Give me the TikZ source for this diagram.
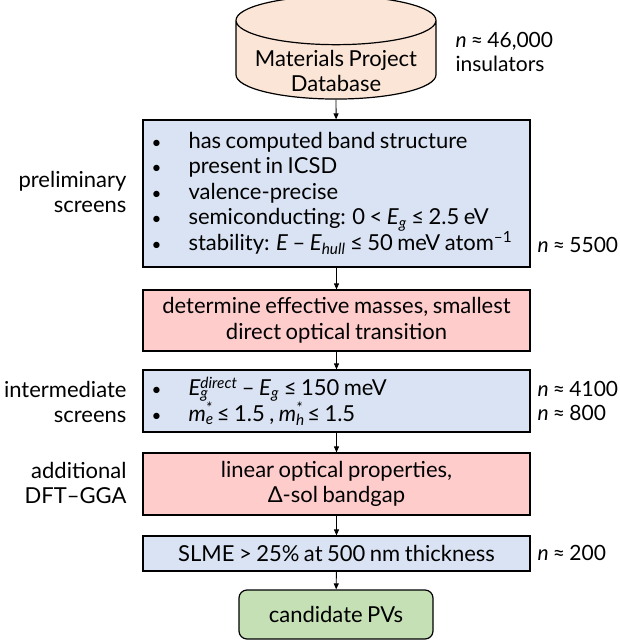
\documentclass[tikz,border=0pt]{standalone}
\usepackage{fontspec}
\setmainfont{Lato}[WordSpace=0.8]
\usetikzlibrary{shapes.geometric,arrows.meta}
\definecolor{peach}{RGB}{251,229,214}
\definecolor{lblue}{RGB}{218,227,243}
\definecolor{lpink}{RGB}{255,204,204}
\definecolor{lgreen}{RGB}{197,224,180}
\newcommand{\bul}{\makebox[38pt][l]{\hspace{1pt}{\fontsize{17}{17}\selectfont\textbullet}}}
\newcommand{\subsup}[3]{\textit{#1}\rlap{\textsubscript{\textit{#2}}}\textsuperscript{\textit{#3}}}

\begin{document}
\begin{tikzpicture}[x=1pt,y=-1pt]
    \tikzset{%
      txt/.style={font=\fontsize{22}{25.5}\selectfont},
      box/.style={txt, draw, line width=1.2pt, minimum width=387pt,
        inner sep=0pt, align=center},
      bluebox/.style={box, fill=lblue},
      pinkbox/.style={box, fill=lpink},
      listbox/.style={bluebox, text width=372pt, align=flush left},
      side/.style={txt, anchor=east, align=right},
      count/.style={font=\fontsize{21}{24}\selectfont, anchor=west, align=left},
      flow/.style={-{Triangle[length=6pt,width=5pt]}, line width=0.9pt},
    }
    \useasboundingbox (0,0) rectangle (619,640);
    % database
    \node[txt, draw, line width=1.2pt, fill=peach, cylinder, shape border rotate=90,
      aspect=0.3, minimum height=103pt, minimum width=200pt, inner sep=0pt]
      (db) at (336,60)
      {\raisebox{-19pt}[0pt][0pt]{\begin{tabular}{@{}c@{}}Materials Project\\Database\end{tabular}}};
    \node[count] (ndb) at (452,52) {\textit{n} ≈ 46,000\\insulators};
    % preliminary screens
    \node[listbox, minimum height=147pt] (pre) at (336.5,193.5)
      {\bul has computed band structure\\
       \bul present in ICSD\\
       \bul valence-precise\\
       \bul semiconducting: 0 < \textit{E}\textsubscript{\textit{g}} ≤ 2.5 eV\\
       \bul stability: \textit{E} – \textit{E}\textsubscript{\textit{hull}} ≤ 50 meV atom\textsuperscript{–1}};
    \node[side] (lpre) at (130,192) {preliminary\\screens};
    \node[count] (npre) at (534,245) {\textit{n} ≈ 5500};
    % effective masses
    \node[pinkbox, minimum height=61pt] (mass) at (336.5,320.5)
      {determine effective masses, smallest\\direct optical transition};
    % intermediate screens
    \node[listbox, minimum height=62pt] (mid) at (336.5,401)
      {\bul \subsup{E}{g}{direct} – \textit{E}\textsubscript{\textit{g}} ≤ 150 meV\\
       \bul \subsup{m}{e}{*} ≤ 1.5 , \subsup{m}{h}{*} ≤ 1.5};
    \node[side] (lmid) at (130,402) {intermediate\\screens};
    \node[count] (nmid) at (534,401) {\textit{n} ≈ 4100\\\textit{n} ≈ 800};
    % optical properties
    \node[pinkbox, minimum height=62pt] (opt) at (336.5,484)
      {linear optical properties,\\Δ-sol bandgap};
    \node[side] (lopt) at (130,483) {additional\\DFT–GGA};
    % SLME
    \node[bluebox, minimum height=35pt] (slme) at (336.5,553.5)
      {SLME > 25\% at 500 nm thickness};
    \node[count] (nslme) at (534,553) {\textit{n} ≈ 200};
    % result
    \node[box, fill=lgreen, rounded corners=8pt, minimum width=194pt,
      minimum height=49pt] (pv) at (336,614.5) {candidate PVs};

    \draw[flow] (db.south) -- (pre);
    \draw[flow] (pre) -- (mass);
    \draw[flow] (mass) -- (mid);
    \draw[flow] (mid) -- (opt);
    \draw[flow] (opt) -- (slme);
    \draw[flow] (slme) -- (pv);
\end{tikzpicture}
\end{document}
